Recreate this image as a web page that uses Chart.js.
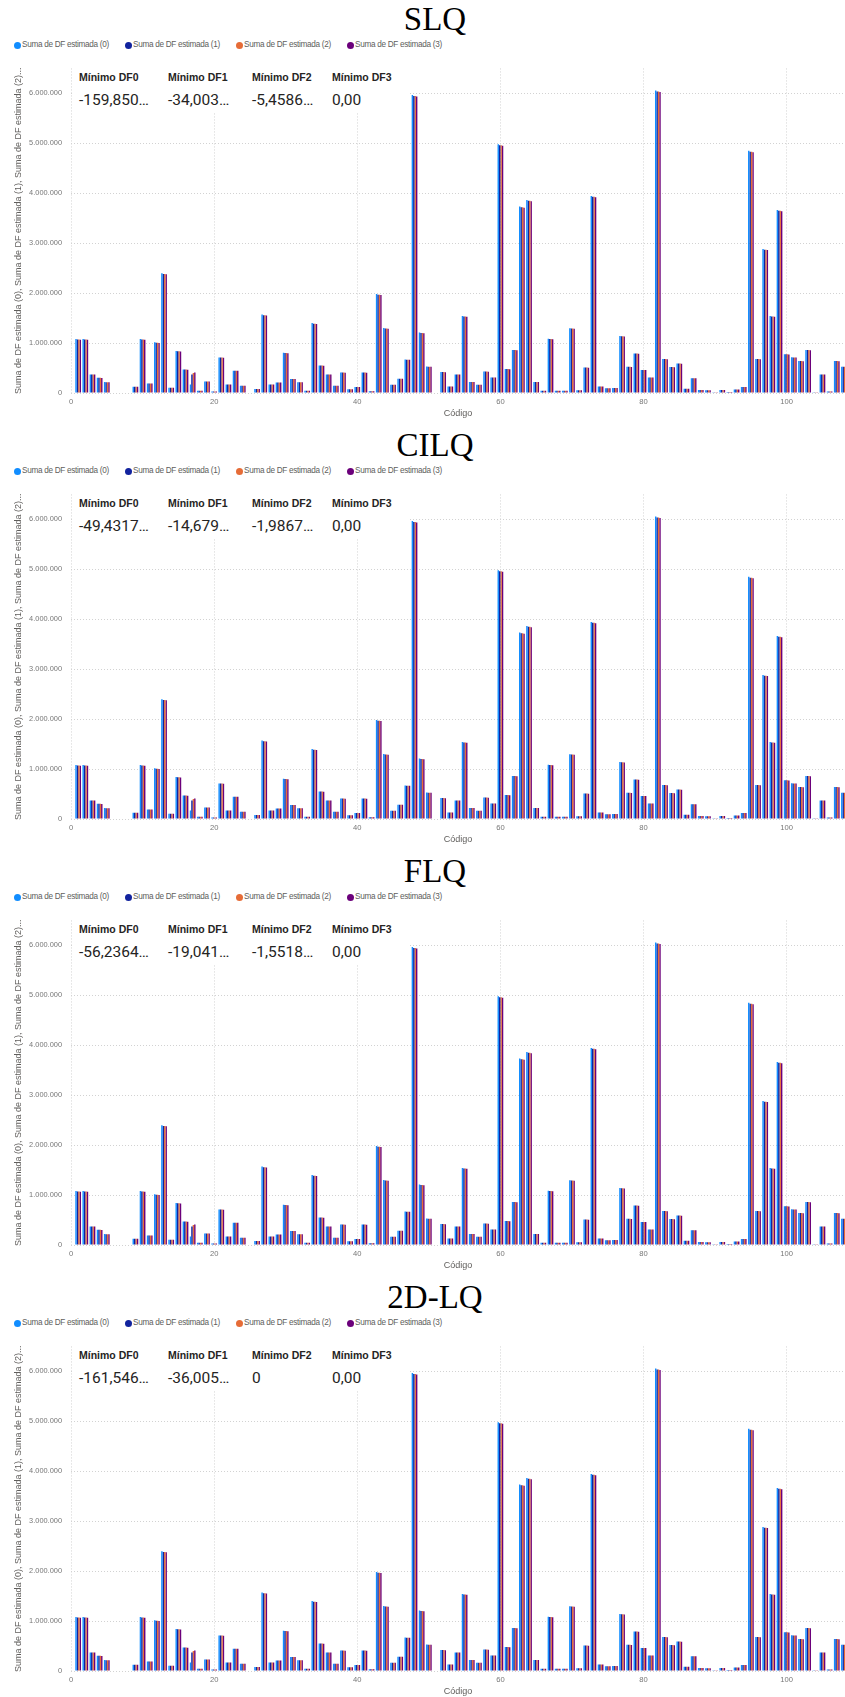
<!DOCTYPE html>
<html>
<head>
<meta charset="utf-8">
<script src="https://cdn.jsdelivr.net/npm/chart.js@4.4.1/dist/chart.umd.min.js"></script>
<style>
  html, body { margin: 0; padding: 0; background: #fff; }
  #page { position: relative; width: 845px; height: 1697px; overflow: hidden;
          font-family: "Liberation Sans", Arial, sans-serif; }
  .panel { position: absolute; left: 0; width: 845px; height: 426px; }
  .ttl { position: absolute; left: 335px; width: 200px; top: 3px; text-align: center;
         font-family: "Liberation Serif", "Times New Roman", serif; font-size: 33px;
         line-height: 33px; color: #000; white-space: nowrap; }
  .lg { position: absolute; top: 40px; height: 10px; font-size: 8.2px; letter-spacing: -0.3px;
        line-height: 10px; color: #605E5C; white-space: nowrap; }
  .lg i { position: absolute; left: 0; top: 1.5px; width: 7px; height: 7px; border-radius: 50%; }
  .lg span { position: absolute; left: 8px; top: 0; }
  .panel canvas { position: absolute; left: 0; top: 55px; }
  .kpi { position: absolute; left: 74px; top: 68px; width: 336px; height: 45px; background: #fff; }
  .card { position: absolute; top: 0; white-space: nowrap; color: #252423; }
  .card .k { position: absolute; left: 0; top: 3px; font-weight: bold; font-size: 10.5px; line-height: 12px; }
  .card .v { position: absolute; left: 0; top: 23px; font-family: Roboto, "Liberation Sans", sans-serif;
             font-size: 15.5px; line-height: 18px; }
</style>
</head>
<body>
<div id="page"></div>
<script>
// Códigos con dato (6–8 y 25 no tienen barra)
const CODES = [1,2,3,4,5,9,10,11,12,13,14,15,16,17,18,19,20,21,22,23,24,
  26,27,28,29,30,31,32,33,34,35,36,37,38,39,40,41,42,43,44,45,46,47,48,49,50,
  51,52,53,54,55,56,57,58,59,60,61,62,63,64,65,66,67,68,69,70,71,72,73,74,75,
  76,77,78,79,80,81,82,83,84,85,86,87,88,89,90,91,92,93,94,95,96,97,98,99,100,
  101,102,103,104,105,106,107,108];

// Suma de DF estimada (0)
const DF0 = [1080000,1080000,372000,305000,218000,125000,1082000,190000,1015000,2400000,105000,840000,472000,170000,47000,230000,30000,712000,172000,448000,145000,
  80000,1570000,170000,210000,805000,282000,215000,47000,1400000,552000,372000,145000,412000,75000,120000,412000,35000,1985000,1300000,165000,285000,670000,5970000,1210000,530000,
  12000,420000,130000,372000,1540000,220000,165000,430000,310000,4980000,480000,862000,3735000,3865000,220000,47000,1088000,47000,47000,1298000,55000,510000,3945000,130000,95000,
  100000,1142000,525000,792000,462000,310000,6060000,682000,520000,590000,85000,295000,60000,55000,15000,60000,20000,70000,120000,4850000,682000,2885000,1540000,3665000,778000,
  715000,640000,862000,15000,372000,30000,642000,525000];

// Suma de DF estimada (1)
const DF1 = [1070000,1070000,370000,303000,217000,124000,1070000,189000,1005000,2385000,104000,835000,470000,370000,46000,229000,29000,710000,171000,447000,144000,
  79000,1555000,169000,209000,800000,281000,214000,46000,1387000,550000,370000,144000,410000,74000,119000,410000,34000,1970000,1290000,164000,284000,668000,5950000,1200000,528000,
  11000,419000,129000,370000,1530000,219000,164000,429000,309000,4960000,479000,860000,3720000,3850000,219000,46000,1080000,46000,46000,1290000,54000,509000,3930000,129000,94000,
  99000,1135000,524000,790000,461000,309000,6040000,680000,519000,589000,84000,294000,59000,54000,14000,59000,19000,69000,119000,4830000,680000,2870000,1530000,3650000,775000,
  713000,639000,860000,14000,370000,29000,640000,524000];

// Suma de DF estimada (2)
const DF2 = [1070000,1070000,370000,303000,217000,124000,1070000,189000,1005000,2385000,104000,835000,470000,400000,46000,229000,29000,710000,171000,447000,144000,
  79000,1555000,169000,209000,800000,281000,214000,46000,1387000,550000,370000,144000,410000,74000,119000,410000,34000,1970000,1290000,164000,284000,668000,5950000,1200000,528000,
  11000,419000,129000,370000,1530000,219000,164000,429000,309000,4960000,479000,860000,3720000,3850000,219000,46000,1080000,46000,46000,1290000,54000,509000,3930000,129000,94000,
  99000,1135000,524000,790000,461000,309000,6040000,680000,519000,589000,84000,294000,59000,54000,14000,59000,19000,69000,119000,4830000,680000,2870000,1530000,3650000,775000,
  713000,639000,860000,14000,370000,29000,640000,524000];

// Suma de DF estimada (3)
const DF3 = [1068000,1068000,369000,302000,216000,123000,1068000,188000,1002000,2380000,103000,832000,468000,410000,45000,228000,28000,708000,170000,445000,143000,
  78000,1550000,168000,208000,797000,280000,213000,45000,1383000,548000,369000,143000,408000,73000,118000,408000,33000,1965000,1286000,163000,283000,665000,5940000,1195000,526000,
  10000,417000,128000,369000,1525000,218000,163000,427000,308000,4950000,477000,857000,3710000,3840000,218000,45000,1076000,45000,45000,1286000,53000,507000,3920000,128000,93000,
  98000,1131000,522000,787000,459000,308000,6030000,677000,517000,587000,83000,293000,58000,53000,13000,58000,18000,68000,118000,4820000,677000,2862000,1525000,3640000,772000,
  711000,637000,857000,13000,368000,28000,637000,522000];

const SERIES = [DF0, DF1, DF2, DF3];
const SERIES_NAMES = ['Suma de DF estimada (0)', 'Suma de DF estimada (1)',
                      'Suma de DF estimada (2)', 'Suma de DF estimada (3)'];
const COLORS = ['#118DFF', '#12239E', '#E66C37', '#6B007B'];

const PANEL_TITLES = ['SLQ', 'CILQ', 'FLQ', '2D-LQ'];
const KPI_LABELS = ['Mínimo DF0', 'Mínimo DF1', 'Mínimo DF2', 'Mínimo DF3'];
const KPI_SLQ  = ['-159,850…', '-34,003…', '-5,4586…', '0,00'];
const KPI_CILQ = ['-49,4317…', '-14,679…', '-1,9867…', '0,00'];
const KPI_FLQ  = ['-56,2364…', '-19,041…', '-1,5518…', '0,00'];
const KPI_2DLQ = ['-161,546…', '-36,005…', '0', '0,00'];
const KPI_VALUES = [KPI_SLQ, KPI_CILQ, KPI_FLQ, KPI_2DLQ];

const X_TICKS = [0, 20, 40, 60, 80, 100];
const Y_TICKS = [0, 1000000, 2000000, 3000000, 4000000, 5000000, 6000000];
const X_TITLE = 'Código';
const Y_TITLE = 'Suma de DF estimada (0), Suma de DF estimada (1), Suma de DF estimada (2)...';

// layout
const PANEL_H = 426;
const X_MAX = 108.15;
const Y_MAX = 6500000;
const LEGEND_X = [14, 125, 236, 347];
const CARD_X = [5, 94, 178, 258];

function fmtDots(v) {
  return String(Math.round(v)).replace(/\B(?=(\d{3})+(?!\d))/g, '.');
}

const page = document.getElementById('page');

PANEL_TITLES.forEach((title, p) => {
  const panel = document.createElement('div');
  panel.className = 'panel';
  panel.style.top = (p * PANEL_H) + 'px';
  page.appendChild(panel);

  const t = document.createElement('div');
  t.className = 'ttl';
  t.textContent = title;
  panel.appendChild(t);

  SERIES_NAMES.forEach((name, s) => {
    const item = document.createElement('div');
    item.className = 'lg';
    item.style.left = LEGEND_X[s] + 'px';
    item.innerHTML = '<i style="background:' + COLORS[s] + '"></i><span></span>';
    item.querySelector('span').textContent = name;
    panel.appendChild(item);
  });

  const canvas = document.createElement('canvas');
  canvas.width = 845;
  canvas.height = 366;
  canvas.style.width = '845px';
  canvas.style.height = '366px';
  panel.appendChild(canvas);

  const kpi = document.createElement('div');
  kpi.className = 'kpi';
  KPI_LABELS.forEach((lab, k) => {
    const c = document.createElement('div');
    c.className = 'card';
    c.style.left = CARD_X[k] + 'px';
    const a = document.createElement('div'); a.className = 'k'; a.textContent = lab;
    const b = document.createElement('div'); b.className = 'v'; b.textContent = KPI_VALUES[p][k];
    c.appendChild(a); c.appendChild(b);
    kpi.appendChild(c);
  });
  panel.appendChild(kpi);

  const gridCommon = { color: '#d2d2d2', lineWidth: 1, drawTicks: false, offset: false };
  const borderCommon = { display: false, dash: [1, 2] };

  new Chart(canvas.getContext('2d'), {
    type: 'bar',
    data: {
      datasets: SERIES.map((vals, s) => ({
        label: SERIES_NAMES[s],
        backgroundColor: COLORS[s],
        borderWidth: 0,
        barPercentage: 1,
        categoryPercentage: 0.8,
        data: CODES.map((c, i) => ({ x: c, y: vals[i] }))
      }))
    },
    options: {
      responsive: false,
      animation: false,
      devicePixelRatio: 1,
      layout: { padding: { top: 7, left: 0, right: 0, bottom: 0 } },
      plugins: { legend: { display: false }, tooltip: { enabled: false }, title: { display: false } },
      scales: {
        x: {
          type: 'linear', min: 0, max: X_MAX, offset: false,
          afterBuildTicks: (sc) => { sc.ticks = X_TICKS.map(v => ({ value: v })); },
          afterFit: (sc) => { sc.height = 28; },
          ticks: { color: '#777', padding: 4, maxRotation: 0, autoSkip: false,
                   font: { family: '"Liberation Sans", Arial, sans-serif', size: 7.6 } },
          grid: gridCommon, border: borderCommon,
          title: { display: true, text: X_TITLE, color: '#605E5C',
                   font: { family: '"Liberation Sans", Arial, sans-serif', size: 9 },
                   padding: { top: 0, bottom: 1.6 } }
        },
        y: {
          min: 0, max: Y_MAX,
          afterBuildTicks: (sc) => { sc.ticks = Y_TICKS.map(v => ({ value: v })); },
          afterFit: (sc) => { sc.width = 71; },
          ticks: { color: '#777', padding: 9, callback: (v) => fmtDots(v),
                   font: { family: '"Liberation Sans", Arial, sans-serif', size: 7.4 } },
          grid: gridCommon, border: borderCommon,
          title: { display: true, text: Y_TITLE, color: '#605E5C',
                   font: { family: '"Liberation Sans", Arial, sans-serif', size: 9 },
                   padding: { top: 13.6, bottom: 0 } }
        }
      }
    }
  });
});
</script>
</body>
</html>
